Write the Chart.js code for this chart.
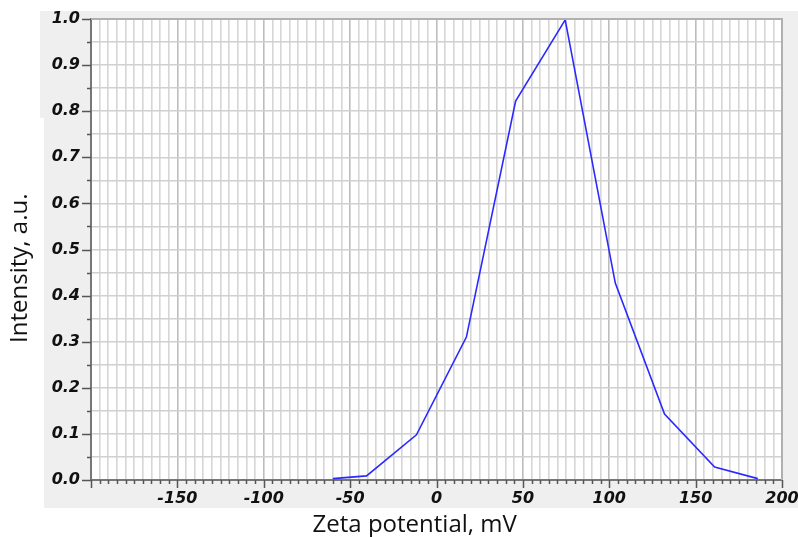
<!DOCTYPE html>
<html>
<head>
<meta charset="utf-8">
<script src="https://cdn.jsdelivr.net/npm/chart.js@4/dist/chart.umd.min.js"></script>
<style>
html,body{margin:0;padding:0;background:#ffffff;}
#c{display:block;}
</style>
</head>
<body>
<canvas id="c" width="798" height="537"></canvas>
<script>
// ---- data ----
const zetaValues = [-60, -40.5, -11.6, 17.3, 45.8, 74.5, 103.5, 132, 161, 186];
const intensityValues = [0.003, 0.009, 0.098, 0.31, 0.822, 0.998, 0.427, 0.143, 0.028, 0.003];
const zeroZeta = [-198.8, -169.9, -140.5, -111.6, -83.2];
const zeroIntensity = [0, 0, 0, 0, 0];
const xTickLabels = [-150, -100, -50, 0, 50, 100, 150, 200];
const yTickLabels = [0.0, 0.1, 0.2, 0.3, 0.4, 0.5, 0.6, 0.7, 0.8, 0.9, 1.0];
const xTitle = 'Zeta potential, mV';
const yTitle = 'Intensity, a.u.';

const curve = zetaValues.map((x, i) => ({x: x, y: intensityValues[i]}));
const zeros = zeroZeta.map((x, i) => ({x: x, y: zeroIntensity[i]}));

const tickFont = {family: '"DejaVu Sans", sans-serif', size: 16, weight: 'bold', style: 'italic'};
const titleFont = {family: '"Open Sans", sans-serif', size: 24, lineHeight: 1};
const pad = (s, n) => s + '\u00A0'.repeat(n);

const panelPlugin = {
  id: 'panel',
  beforeDraw(chart) {
    const ctx = chart.ctx;
    const a = chart.chartArea;
    ctx.save();
    ctx.fillStyle = '#efefef';
    ctx.fillRect(40, 11, 758, 497);
    ctx.fillStyle = '#ffffff';
    ctx.fillRect(40, 118, 4, 390);
    ctx.fillRect(a.left, a.top, a.right - a.left, a.bottom - a.top);
    ctx.restore();
  },
  afterDraw(chart) {
    const ctx = chart.ctx;
    const a = chart.chartArea;
    const xs = chart.scales.x, ys = chart.scales.y;
    ctx.save();
    ctx.strokeStyle = '#b0b0b0';
    ctx.lineWidth = 2;
    ctx.beginPath();
    ctx.moveTo(a.left, a.top); ctx.lineTo(a.right, a.top); ctx.lineTo(a.right, a.bottom);
    ctx.stroke();
    ctx.strokeStyle = '#555555';
    ctx.lineWidth = 1.5;
    ctx.beginPath();
    xs.ticks.forEach(t => {
      const px = Math.round(xs.getPixelForValue(t.value)) + 0.5;
      const major = Math.round(t.value) % 50 === 0;
      ctx.moveTo(px, a.bottom);
      ctx.lineTo(px, a.bottom + (major ? 8 : 4));
    });
    ys.ticks.forEach(t => {
      const py = Math.round(ys.getPixelForValue(t.value)) + 0.5;
      const major = Math.round(t.value * 100) % 10 === 0;
      ctx.moveTo(a.left - (major ? 9 : 4), py);
      ctx.lineTo(a.left, py);
    });
    ctx.stroke();
    ctx.restore();
  }
};

new Chart(document.getElementById('c'), {
  type: 'scatter',
  data: {
    datasets: [
      {
        data: curve,
        showLine: true,
        borderColor: '#2a2aff',
        borderWidth: 1.6,
        pointRadius: 0,
        tension: 0,
        fill: false
      },
      {
        data: zeros,
        showLine: false,
        pointRadius: 0.9,
        pointBorderWidth: 0,
        pointBackgroundColor: 'rgba(80,80,255,0.6)'
      }
    ]
  },
  options: {
    responsive: false,
    animation: false,
    devicePixelRatio: 1,
    layout: {padding: {left: 0, top: 19, right: 16, bottom: 0}},
    plugins: {legend: {display: false}, tooltip: {enabled: false}},
    scales: {
      x: {
        type: 'linear',
        min: -200, max: 200,
        afterFit(s) { s.height = 57; s.paddingLeft = 0; s.paddingRight = 0; },
        ticks: {
          stepSize: 5,
          maxTicksLimit: 200,
          autoSkip: false,
          maxRotation: 0,
          padding: 9,
          color: '#111111',
          font: tickFont,
          callback: (v) => xTickLabels.includes(Math.round(v)) && Math.abs(v - Math.round(v)) < 1e-6 ? String(Math.round(v)) : ''
        },
        grid: {
          drawTicks: false,
          lineWidth: 1.6,
          color: (c) => (c.tick && Math.round(c.tick.value) % 50 === 0) ? '#bdbdbd' : '#d6d6d6'
        },
        border: {color: '#777777', width: 2},
        title: {display: true, text: pad(xTitle, 7), font: titleFont, color: '#111111', padding: {top: 0, bottom: 0}}
      },
      y: {
        type: 'linear',
        min: 0, max: 1,
        afterFit(s) { s.width = 91; s.paddingTop = 0; s.paddingBottom = 0; },
        ticks: {
          stepSize: 0.05,
          maxTicksLimit: 200,
          autoSkip: false,
          padding: 11,
          color: '#111111',
          font: tickFont,
          callback: (v) => {
            const k = Math.round(v * 100);
            if (k % 10 !== 0) return '';
            const lab = yTickLabels.find(l => Math.round(l * 100) === k);
            return lab === undefined ? '' : lab.toFixed(1);
          }
        },
        grid: {
          drawTicks: false,
          lineWidth: 1.6,
          color: '#d0d0d0'
        },
        border: {color: '#777777', width: 2},
        title: {display: true, text: pad(yTitle, 6), font: titleFont, color: '#111111', padding: {top: 8, bottom: 0}}
      }
    }
  },
  plugins: [panelPlugin]
});
</script>
</body>
</html>
